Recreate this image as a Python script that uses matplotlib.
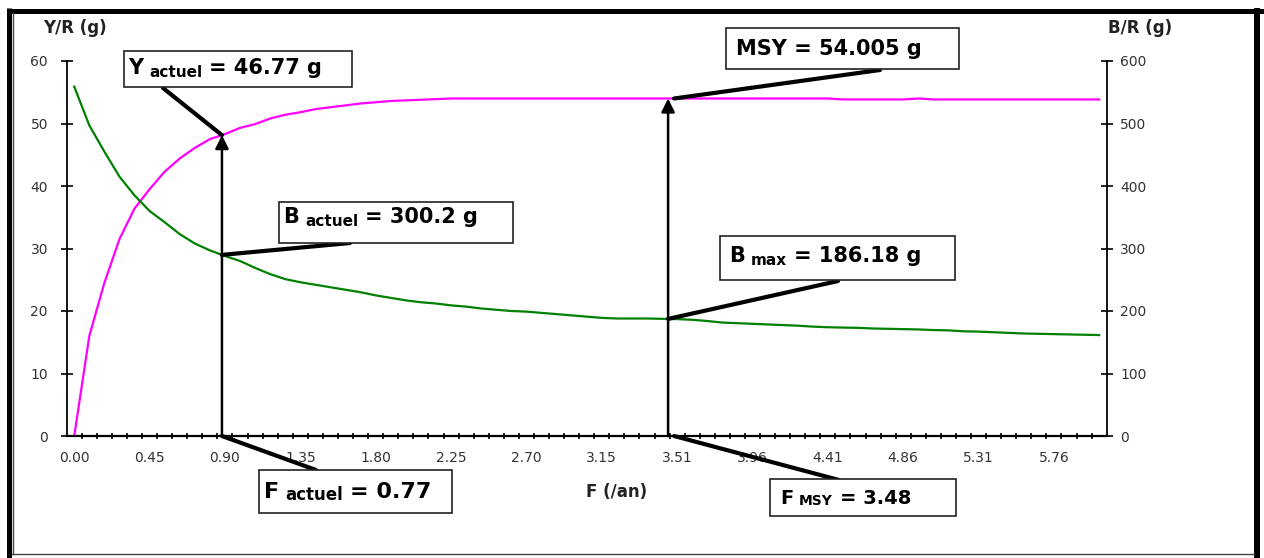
import numpy as np
import matplotlib
matplotlib.use("Agg")
import matplotlib.pyplot as plt
from matplotlib.patches import Rectangle

plt.rcParams['font.family'] = ['DejaVu Sans']

# F categories (Excel category axis, F_MSY = 3.48 inserted)
F = [0.00, 0.09, 0.18, 0.27, 0.36, 0.45, 0.54, 0.63, 0.72, 0.81,
     0.90, 0.99, 1.08, 1.17, 1.26, 1.35, 1.44, 1.53, 1.62, 1.71,
     1.80, 1.89, 1.98, 2.07, 2.16, 2.25, 2.34, 2.43, 2.52, 2.61,
     2.70, 2.79, 2.88, 2.97, 3.06, 3.15, 3.24, 3.33, 3.42, 3.48,
     3.51, 3.60, 3.69, 3.78, 3.87, 3.96, 4.05, 4.14, 4.23, 4.32,
     4.41, 4.50, 4.59, 4.68, 4.77, 4.86, 4.95, 5.04, 5.13, 5.22,
     5.31, 5.40, 5.49, 5.58, 5.67, 5.76, 5.85, 5.94, 6.03]

# Y/R (g), left axis
yr = [0.0, 16.0, 24.5, 31.5, 36.4, 39.5, 42.3, 44.4, 46.1, 47.5,
      48.3, 49.3, 49.9, 50.8, 51.4, 51.8, 52.3, 52.6, 52.9, 53.2,
      53.4, 53.6, 53.7, 53.8, 53.9, 54.0, 54.0, 54.0, 54.0, 54.0,
      54.0, 54.0, 54.0, 54.0, 54.0, 54.0, 54.0, 54.0, 54.0, 54.0,
      54.0, 54.0, 54.0, 54.0, 54.0, 54.0, 54.0, 54.0, 54.0, 54.0,
      54.0, 53.85, 53.85, 53.85, 53.85, 53.85, 54.0, 53.85, 53.85, 53.85,
      53.85, 53.85, 53.85, 53.85, 53.85, 53.85, 53.85, 53.85, 53.85]

# B/R (g), right axis
br = [559, 497, 455, 415, 385, 360, 342, 323, 308, 297,
      288, 280, 269, 259, 251, 246, 242, 238, 234, 230,
      225, 221, 217, 214, 212, 209, 207, 204, 202, 200,
      199, 197, 195, 193, 191, 189, 188, 188, 188, 187.5,
      187, 186, 184, 181.5, 180.5, 179.5, 178.5, 177.5, 176.5, 175,
      174, 173.5, 173, 172, 171.5, 171, 170.5, 169.5, 169, 167.5,
      167, 166, 165, 164, 163.5, 163, 162.5, 162, 161.5]

W, H = 1264, 558
fig = plt.figure(figsize=(W / 100, H / 100), dpi=100)
ax = fig.add_axes([66.7 / W, (H - 436) / H, 1040 / W, 375 / H])
ax2 = ax.twinx()

x = np.arange(len(F))
ax.plot(x, yr, color='#ff00ff', lw=1.6)
ax2.plot(x, br, color='#008000', lw=1.6)

ax.set_xlim(-0.5, len(F) - 0.5)
ax.set_ylim(0, 60)
ax2.set_ylim(0, 600)
ax.set_yticks(range(0, 61, 10))
ax2.set_yticks(range(0, 601, 100))
ax.set_xticks(x[::5])
ax.set_xticklabels([f'{F[i]:.2f}' for i in x[::5]])
ax.set_xticks(np.arange(0.5, len(F) - 1, 1), minor=True)

ax.tick_params(axis='x', which='major', length=0, pad=10.5, labelsize=10, labelcolor='#333333')
ax.tick_params(axis='x', which='minor', direction='inout', length=4.5, width=1.2)
ax.tick_params(axis='y', direction='inout', length=9, width=1.2, pad=9, labelsize=10, labelcolor='#333333')
ax2.tick_params(axis='y', direction='inout', length=8.4, width=1.2, pad=5.4, labelsize=10, labelcolor='#333333')

for s in ['top', 'right']:
    ax.spines[s].set_visible(False)
for s in ['top', 'left', 'bottom']:
    ax2.spines[s].set_visible(False)
ax.spines['left'].set_linewidth(1.3)
ax.spines['bottom'].set_linewidth(1.6)
ax2.spines['right'].set_linewidth(1.3)

# overlay in image pixels for frame, callouts and titles
ov = fig.add_axes([0, 0, 1, 1])
ov.set_xlim(0, W)
ov.set_ylim(H, 0)
ov.axis('off')
ov.patch.set_visible(False)

# outer frame
ov.plot([7, W], [10.5, 10.5], color='black', lw=3.6, solid_capstyle='butt')
ov.plot([9, 9], [8, H], color='black', lw=3.6, solid_capstyle='butt')
ov.plot([1257, 1257], [8, H], color='black', lw=4.3, solid_capstyle='butt')
ov.plot([12, 1254], [554, 554], color='#444444', lw=1.0)
ov.plot([12.5, 12.5], [13, 554], color='#444444', lw=1.0)

# hand-drawn arrows at F actuel and F MSY
F_act_pos = 9.8
F_msy_pos = 39.4
y_act = np.interp(F_act_pos, x, yr)
y_msy = np.interp(F_msy_pos, x, yr)
b_act = np.interp(F_act_pos, x, br)
b_msy = np.interp(F_msy_pos, x, br)

arrow = dict(arrowstyle='-|>', color='black', lw=1.8, mutation_scale=20, shrinkA=0, shrinkB=0)
ov.annotate('', xy=(F_act_pos, y_act), xycoords=ax.transData,
            xytext=(F_act_pos, 0), textcoords=ax.transData, arrowprops=arrow)
ov.annotate('', xy=(F_msy_pos, y_msy), xycoords=ax.transData,
            xytext=(F_msy_pos, 0), textcoords=ax.transData, arrowprops=arrow)

stick = dict(arrowstyle='-', color='black', lw=3, shrinkA=0, shrinkB=0)
callouts = [
    ((163, 88), (F_act_pos, y_act), ax.transData),
    ((350, 243), (F_act_pos, b_act), ax2.transData),
    ((880, 70), (F_msy_pos + 0.4, y_msy), ax.transData),
    ((838, 281), (F_msy_pos, b_msy), ax2.transData),
    ((316, 470), (F_act_pos, 0), ax.transData),
    ((839, 480), (F_msy_pos + 0.4, 0), ax.transData),
]
for end, start, tr in callouts:
    ov.annotate('', xy=end, xycoords='data', xytext=start, textcoords=tr, arrowprops=stick)

boxes = [(124, 51, 352, 87), (279, 202, 513, 243), (726, 28, 959, 69),
         (720, 236, 955, 280), (259, 470, 452, 513), (770, 479, 956, 516)]
for x0, y0, x1, y1 in boxes:
    ov.add_patch(Rectangle((x0, y0), x1 - x0, y1 - y0, facecolor='white',
                           edgecolor='#222222', lw=1.2, zorder=3))

renderer = fig.canvas.get_renderer()


def put_parts(x0, base, parts):
    xx = x0
    for txt, size, gap, dy in parts:
        xx += gap
        t = ov.text(xx, base + dy, txt, fontsize=size, fontweight='bold',
                    va='baseline', ha='left', color='black', zorder=4)
        xx = t.get_window_extent(renderer).x1


put_parts(128, 74, [("Y", 15, 0, 0), ("actuel", 11, 6, 3), ("= 46.77 g", 15, 7, 0)])
put_parts(283, 223, [("B", 15, 0, 0), ("actuel", 11, 6, 3), ("= 300.2 g", 15, 7, 0)])
put_parts(736, 55, [("MSY = 54.005 g", 15, 0, 0)])
put_parts(729, 262, [("B", 15, 0, 0), ("max", 11, 6, 3), ("= 186.18 g", 15, 7, 0)])
put_parts(264, 498, [("F", 16, 0, 0), ("actuel", 12, 6, 2), ("= 0.77", 16, 7, 0)])
put_parts(780, 504, [("F", 14, 0, 0), ("MSY", 10, 6, 1), ("= 3.48", 14, 7, 0)])

# axis titles
ov.text(43, 33, "Y/R (g)", fontsize=12, fontweight='bold', color='#222222', va='baseline')
ov.text(1108, 33, "B/R (g)", fontsize=12, fontweight='bold', color='#222222', va='baseline')
ov.text(586, 497, "F (/an)", fontsize=12, fontweight='bold', color='#222222', va='baseline')

fig.savefig('out.png', dpi=100, facecolor='white')
